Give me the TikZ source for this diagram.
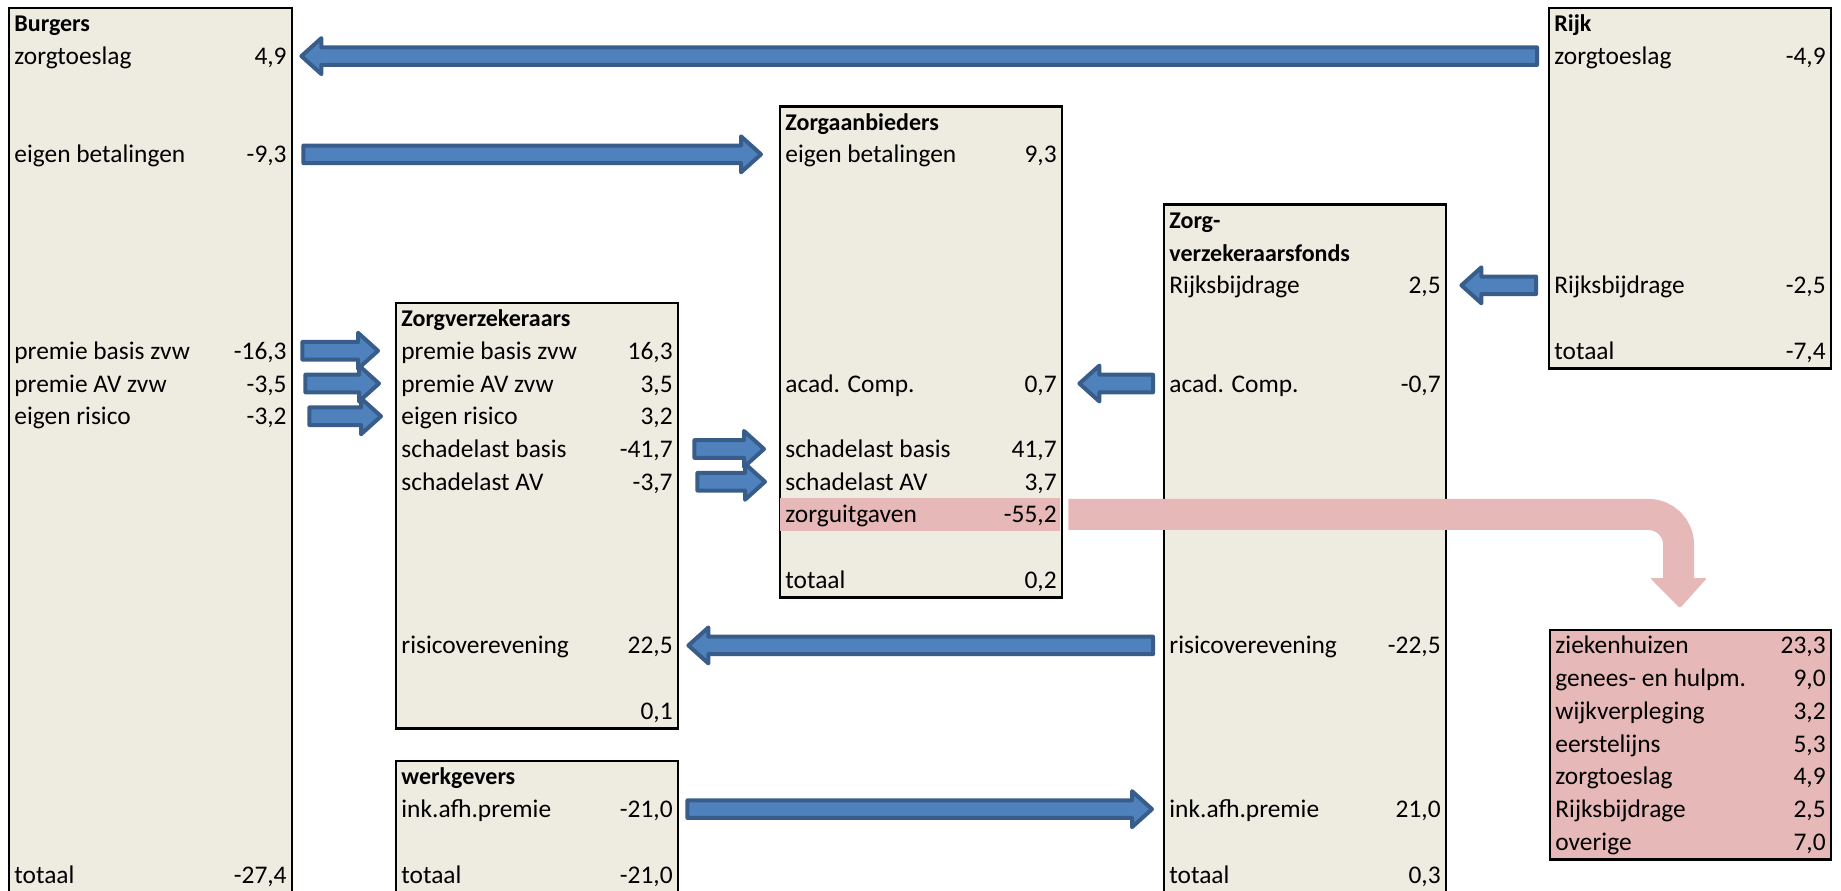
\documentclass[tikz,border=0pt]{standalone}
\usepackage{fontspec}
\setmainfont{Carlito}
\usetikzlibrary{calc,positioning}

\definecolor{sheetfill}{HTML}{EEECE1}
\definecolor{flowfill}{HTML}{4F81BD}
\definecolor{flowline}{HTML}{385D8A}
\definecolor{spend}{HTML}{E6B8B7}

\tikzset{
  sheet/.style={draw=black, line width=1.2pt, fill=sheetfill, anchor=north west,
    inner sep=0pt, minimum width=141pt},
  cell/.style={inner sep=0pt, text height=12.43pt, text depth=3.94pt,
    font=\fontsize{12.7}{14}\selectfont},
  lbl/.style={cell, anchor=west},
  val/.style={cell, anchor=east},
  kop/.style={lbl, font=\fontsize{12}{14}\selectfont\bfseries},
  flow/.style={draw=flowline, fill=flowfill, line width=2pt, line join=round,
    to path={let \p1=(\tikztostart), \p2=(\tikztotarget), \n1={sign(\x2-\x1)} in
      (\x1+\n1*1pt,\y1+4.4pt) -- (\x2-\n1*11pt,\y1+4.4pt) -- (\x2-\n1*11pt,\y1+9pt)
      -- (\x2-\n1*1pt,\y1) -- (\x2-\n1*11pt,\y1-9pt) -- (\x2-\n1*11pt,\y1-4.4pt)
      -- (\x1+\n1*1pt,\y1-4.4pt) -- cycle}},
  spendflow/.style={draw=spend, line width=15.5pt, rounded corners=15pt}
}

\begin{document}
\begin{tikzpicture}[x=0.5pt, y=-16.37pt]
  \useasboundingbox (0,-0.2138) rectangle (1841,26.97);

  % Burgers
  \node[sheet, minimum width=141.5pt, minimum height=450.2pt] (burgers) at (8,0) {};
  \node[kop] (b-0) at (14,0.5) {Burgers};
  \foreach \r/\t/\v in {1/zorgtoeslag/{4,9}, 4/eigen betalingen/{-9,3},
      10/premie basis zvw/{-16,3}, 11/premie AV zvw/{-3,5},
      12/eigen risico/{-3,2}, 26/totaal/{-27,4}} {
    \node[lbl] (b-\r) at (14,\r+0.5) {\t};
    \node[val] (b-\r-v) at (287,\r+0.5) {\v};
  }

  % Zorgverzekeraars
  \node[sheet, minimum height=212.8pt] (zv) at (395,9) {};
  \node[kop] (zv-9) at (401,9.5) {Zorgverzekeraars};
  \foreach \r/\t/\v in {10/premie basis zvw/{16,3}, 11/premie AV zvw/{3,5},
      12/eigen risico/{3,2}, 13/schadelast basis/{-41,7},
      14/schadelast AV/{-3,7}, 19/risicoverevening/{22,5}} {
    \node[lbl] (zv-\r) at (401,\r+0.5) {\t};
    \node[val] (zv-\r-v) at (673,\r+0.5) {\v};
  }
  \node[val] (zv-21-v) at (673,21.5) {0,1};

  % werkgevers
  \node[sheet, minimum height=73.7pt] (wg) at (395,23) {};
  \node[kop] (wg-23) at (401,23.5) {werkgevers};
  \foreach \r/\t/\v in {24/ink.afh.premie/{-21,0}, 26/totaal/{-21,0}} {
    \node[lbl] (wg-\r) at (401,\r+0.5) {\t};
    \node[val] (wg-\r-v) at (673,\r+0.5) {\v};
  }

  % Zorgaanbieders
  \node[sheet, minimum height=245.6pt] (za) at (779,3) {};
  \fill[spend] (779.6,15) rectangle (1060.4,16);
  \node[kop] (za-3) at (785,3.5) {Zorgaanbieders};
  \foreach \r/\t/\v in {4/eigen betalingen/{9,3}, 11/acad. Comp./{0,7},
      13/schadelast basis/{41,7}, 14/schadelast AV/{3,7},
      15/zorguitgaven/{-55,2}, 17/totaal/{0,2}} {
    \node[lbl] (za-\r) at (785,\r+0.5) {\t};
    \node[val] (za-\r-v) at (1057,\r+0.5) {\v};
  }

  % Zorgverzekeraarsfonds
  \node[sheet, minimum height=352pt] (zvf) at (1163,6) {};
  \node[kop] (zvf-6) at (1169,6.5) {Zorg-};
  \node[kop] (zvf-7) at (1169,7.5) {verzekeraarsfonds};
  \foreach \r/\t/\v in {8/Rijksbijdrage/{2,5}, 11/acad. Comp./{-0,7},
      19/risicoverevening/{-22,5}, 24/ink.afh.premie/{21,0}, 26/totaal/{0,3}} {
    \node[lbl] (zvf-\r) at (1169,\r+0.5) {\t};
    \node[val] (zvf-\r-v) at (1441,\r+0.5) {\v};
  }

  % Rijk
  \node[sheet, minimum height=180.1pt] (rijk) at (1548,0) {};
  \node[kop] (r-0) at (1554,0.5) {Rijk};
  \foreach \r/\t/\v in {1/zorgtoeslag/{-4,9}, 8/Rijksbijdrage/{-2,5}, 10/totaal/{-7,4}} {
    \node[lbl] (r-\r) at (1554,\r+0.5) {\t};
    \node[val] (r-\r-v) at (1826,\r+0.5) {\v};
  }

  % uitsplitsing zorguitgaven
  \node[sheet, fill=spend, minimum width=140.5pt, minimum height=114.6pt] (ug) at (1549,19) {};
  \foreach \r/\t/\v in {19/ziekenhuizen/{23,3}, 20/genees- en hulpm./{9,0},
      21/wijkverpleging/{3,2}, 22/eerstelijns/{5,3}, 23/zorgtoeslag/{4,9},
      24/Rijksbijdrage/{2,5}, 25/overige/{7,0}} {
    \node[lbl] (ug-\r) at (1555,\r+0.5) {\t};
    \node[val] (ug-\r-v) at (1826,\r+0.5) {\v};
  }

  % geldstromen
  \draw[flow] ([xshift=-4.5pt]rijk.west |- r-1) to ([xshift=3pt]burgers.east |- b-1);
  \draw[flow] ([xshift=4pt]burgers.east |- b-4) to ([xshift=-8pt]za.west |- za-4);
  \draw[flow] ([xshift=3.5pt]burgers.east |- b-10) to ([xshift=-7.5pt]zv.west |- zv-10);
  \draw[flow] ([xshift=5pt]burgers.east |- b-11) to ([xshift=-7pt]zv.west |- zv-11);
  \draw[flow] ([xshift=7pt]burgers.east |- b-12) to ([xshift=-6pt]zv.west |- zv-12);
  \draw[flow] ([xshift=6.5pt]zv.east |- zv-13) to ([xshift=-6.5pt]za.west |- za-13);
  \draw[flow] ([xshift=8pt]zv.east |- zv-14) to ([xshift=-6pt]za.west |- za-14);
  \draw[flow] ([xshift=-4pt]zvf.west |- zvf-11) to ([xshift=7pt]za.east |- za-11);
  \draw[flow] ([xshift=-5pt]rijk.west |- r-8) to ([xshift=6pt]zvf.east |- zvf-8);
  \draw[flow] ([xshift=-4pt]zvf.west |- zvf-19) to ([xshift=3.5pt]zv.east |- zv-19);
  \draw[flow] ([xshift=3pt]wg.east |- wg-24) to ([xshift=-4.5pt]zvf.west |- zvf-24);

  % zorguitgaven naar uitsplitsing
  \coordinate (ug-knik) at (1678.5,17.44);
  \coordinate (ug-punt) at (1680,18.36);
  \draw[spendflow] ([xshift=2.5pt]za.east |- za-15) -| (ug-knik);
  \fill[spend, rounded corners=1pt] ([xshift=-14.25pt]ug-knik) -- ([xshift=14.25pt]ug-knik) -- (ug-punt) -- cycle;
\end{tikzpicture}
\end{document}
